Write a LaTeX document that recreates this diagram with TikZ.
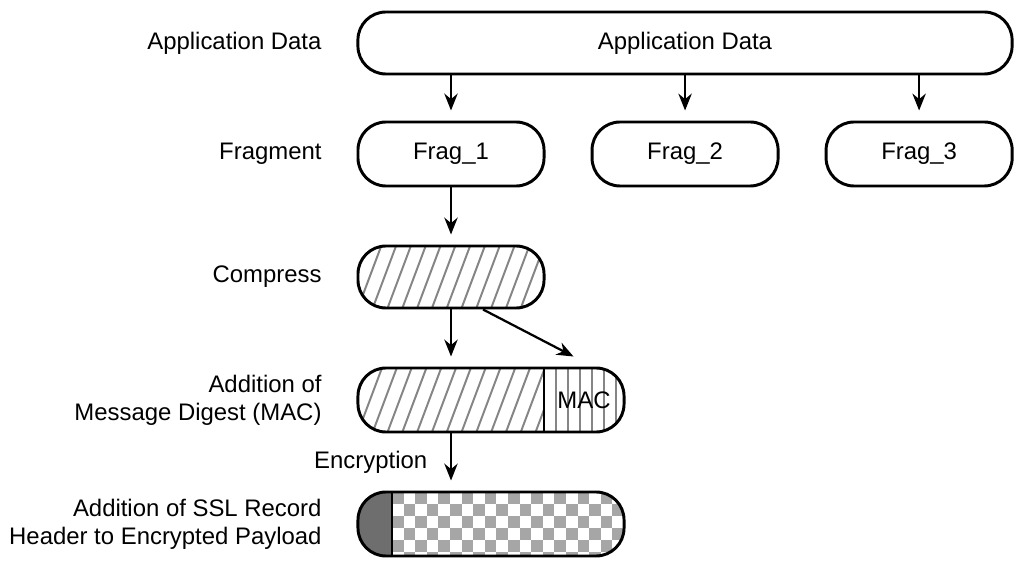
\documentclass[tikz,border=0pt]{standalone}
\usepackage{fontspec}
\setmainfont{Liberation Sans}
\usetikzlibrary{arrows.meta,positioning}

\definecolor{hatchgray}{HTML}{858585}
\definecolor{checkgray}{HTML}{A6A6A6}
\definecolor{hdrgray}{HTML}{6E6E6E}

% diagonal hatch lines inside a node
\newcommand{\hatchfill}{%
  \foreach \k in {-3,...,16}
    \draw[hatchline] ([xshift=\k*0.37cm]path picture bounding box.south west) -- ++(0.6cm,1.6cm);}

\begin{document}
\begin{tikzpicture}[x=0.025cm,y=-0.025cm,>={Stealth[length=12pt,width=9.5pt]},node distance=5.85cm]
  \tikzstyle{every node}=[font=\fontsize{17}{20}\selectfont]
  \tikzstyle{blob}=[draw=black,line width=2.1pt,rounded corners=0.7cm,
                    minimum width=4.65cm,minimum height=1.6cm,inner sep=0pt]
  \tikzstyle{lbl}=[align=right]
  \tikzstyle{link}=[->,line width=1.6pt,shorten >=0.25cm]
  \tikzstyle{hatchline}=[hatchgray,line width=1.4pt]
  \tikzstyle{stripe}=[hatchgray,line width=1.4pt]

  \useasboundingbox (0,0) rectangle (1024,569);

  \node[blob,minimum width=16.35cm,minimum height=1.55cm] (app) at (685,43) {Application Data};
  \node[blob] (frag1) at (451,154) {Frag\_1};
  \node[blob] (frag2) [right of=frag1] {Frag\_2};
  \node[blob] (frag3) [right of=frag2] {Frag\_3};

  \node[blob,minimum height=1.55cm,path picture={\hatchfill}] (comp) at (451,277) {};

  \node[blob,minimum width=6.65cm,path picture={
      \begin{scope}[sharp corners]
        \clip (path picture bounding box.south west) rectangle
              ([xshift=4.65cm]path picture bounding box.north west);
        \hatchfill
      \end{scope}
      \foreach \k in {1,...,6}
        \draw[stripe] ([xshift=4.65cm+\k*0.3cm]path picture bounding box.south west) -- ++(0,1.6cm);
      \draw[line width=2.1pt] ([xshift=4.65cm]path picture bounding box.south west) -- ++(0,1.6cm);
    }] (mac) at (491,400) {};
  \node[inner sep=1pt] (maclbl) at (584,400) {MAC};

  \node[blob,minimum width=6.65cm,path picture={
      \begin{scope}[sharp corners]
      \foreach \i in {0,...,19}
        \foreach \j in {0,...,5} {
          \pgfmathtruncatemacro\odd{mod(\i+\j,2)}
          \ifnum\odd=0
            \fill[checkgray] ([xshift=0.85cm+\i*0.29cm,yshift=-\j*0.3cm]path picture bounding box.north west)
              rectangle ++(0.29cm,-0.3cm);
          \fi}
      \fill[hdrgray] (path picture bounding box.south west) rectangle
            ([xshift=0.85cm]path picture bounding box.north west);
      \end{scope}
      \draw[line width=2.1pt] ([xshift=0.85cm]path picture bounding box.south west) -- ++(0,1.6cm);
    }] (ssl) at (491,524) {};

  % row labels
  \node[lbl] (lapp)  [left=0.75cm of app.west]   {Application Data};
  \node[lbl] (lfrag) [left=0.75cm of frag1.west] {Fragment};
  \node[lbl] (lcomp) [left=0.75cm of comp.west]  {Compress};
  \node[lbl] (lmac)  [left=0.75cm of mac.west]   {Addition of\\Message Digest (MAC)};
  \node[lbl] (lssl)  [left=0.75cm of ssl.west]   {Addition of SSL Record\\Header to Encrypted Payload};

  \coordinate (mactop) at ([xshift=5.425cm,yshift=0.25cm]mac.north west);

  \draw[link] (app.south -| frag1.north) -- (frag1.north);
  \draw[link] (app.south -| frag2.north) -- (frag2.north);
  \draw[link] (app.south -| frag3.north) -- (frag3.north);
  \draw[link] (frag1.south) -- (comp.north);
  \draw[link] (comp.south) -- (mac.north -| comp.south);
  \draw[link,shorten >=0pt] ([xshift=0.8cm]comp.south) -- (mactop);
  \draw[link] (mac.south -| comp.south) -- (ssl.north -| comp.south)
    node[midway,left=0.45cm] (enc) {Encryption};
\end{tikzpicture}
\end{document}
